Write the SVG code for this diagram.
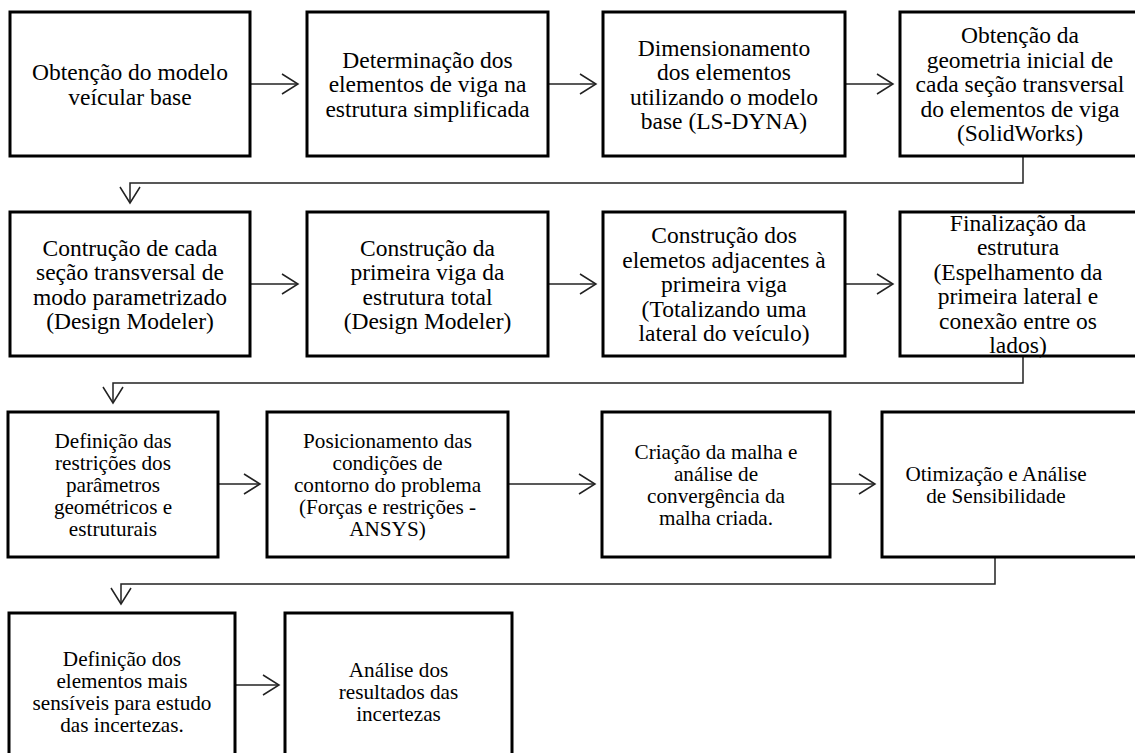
<svg xmlns="http://www.w3.org/2000/svg" width="1135" height="753" viewBox="0 0 1135 753">
<style>
.box{fill:#fff;stroke:#000;stroke-width:3}
.t1{font-family:"Liberation Serif","Times New Roman",serif;font-size:23.5px;fill:#000;text-anchor:middle}
.t2{font-family:"Liberation Serif","Times New Roman",serif;font-size:21.2px;fill:#000;text-anchor:middle}
.c{fill:none;stroke:#222;stroke-width:1.5}
</style>
<defs>
<marker id="ah" markerUnits="userSpaceOnUse" markerWidth="20" markerHeight="24" viewBox="-18 -12 20 24" refX="0" refY="0" orient="auto">
<path d="M-16,-10 L0,0 L-16,10" fill="none" stroke="#222" stroke-width="1.5"/>
</marker>
</defs>
<rect width="1135" height="753" fill="#fff"/>
<g id="connectors">
<line class="c" x1="250" y1="84" x2="298" y2="84" marker-end="url(#ah)"/>
<line class="c" x1="548" y1="84" x2="596" y2="84" marker-end="url(#ah)"/>
<line class="c" x1="845" y1="84" x2="893" y2="84" marker-end="url(#ah)"/>
<polyline class="c" points="1023,156 1023,183 130,183 130,203" marker-end="url(#ah)"/>
<line class="c" x1="250" y1="284" x2="298" y2="284" marker-end="url(#ah)"/>
<line class="c" x1="548" y1="284" x2="596" y2="284" marker-end="url(#ah)"/>
<line class="c" x1="845" y1="284" x2="893" y2="284" marker-end="url(#ah)"/>
<polyline class="c" points="1023,356 1023,383 113,383 113,403" marker-end="url(#ah)"/>
<line class="c" x1="218" y1="484" x2="260" y2="484" marker-end="url(#ah)"/>
<line class="c" x1="508" y1="484" x2="595" y2="484" marker-end="url(#ah)"/>
<line class="c" x1="830" y1="484" x2="875" y2="484" marker-end="url(#ah)"/>
<polyline class="c" points="995,557 995,584 121,584 121,604" marker-end="url(#ah)"/>
<line class="c" x1="235" y1="685" x2="279" y2="685" marker-end="url(#ah)"/>
</g>
<g id="n1"><rect class="box" x="10" y="12" width="240" height="144"/>
<text class="t1"><tspan x="130" y="80">Obtenção do modelo</tspan><tspan x="130" y="104.5">veícular base</tspan></text></g>
<g id="n2"><rect class="box" x="307" y="12" width="241" height="144"/>
<text class="t1"><tspan x="427.5" y="67.5">Determinação dos</tspan><tspan x="427.5" y="92">elementos de viga na</tspan><tspan x="427.5" y="116.5">estrutura simplificada</tspan></text></g>
<g id="n3"><rect class="box" x="603" y="12" width="242" height="144"/>
<text class="t1"><tspan x="724" y="55.5">Dimensionamento</tspan><tspan x="724" y="80">dos elementos</tspan><tspan x="724" y="104.5">utilizando o modelo</tspan><tspan x="724" y="129">base (LS-DYNA)</tspan></text></g>
<g id="n4"><rect class="box" x="900" y="12" width="250" height="144"/>
<text class="t1"><tspan x="1020" y="43">Obtenção da</tspan><tspan x="1020" y="67.5">geometria inicial de</tspan><tspan x="1020" y="92">cada seção transversal</tspan><tspan x="1020" y="116.5">do elementos de viga</tspan><tspan x="1020" y="141">(SolidWorks)</tspan></text></g>
<g id="n5"><rect class="box" x="10" y="212" width="240" height="144"/>
<text class="t1"><tspan x="130" y="255.5">Contrução de cada</tspan><tspan x="130" y="280">seção transversal de</tspan><tspan x="130" y="304.5">modo parametrizado</tspan><tspan x="130" y="329">(Design Modeler)</tspan></text></g>
<g id="n6"><rect class="box" x="307" y="212" width="241" height="144"/>
<text class="t1"><tspan x="427.5" y="255.5">Construção da</tspan><tspan x="427.5" y="280">primeira viga da</tspan><tspan x="427.5" y="304.5">estrutura total</tspan><tspan x="427.5" y="329">(Design Modeler)</tspan></text></g>
<g id="n7"><rect class="box" x="603" y="212" width="242" height="144"/>
<text class="t1"><tspan x="724" y="243">Construção dos</tspan><tspan x="724" y="267.5">elemetos adjacentes à</tspan><tspan x="724" y="292">primeira viga</tspan><tspan x="724" y="316.5">(Totalizando uma</tspan><tspan x="724" y="341">lateral do veículo)</tspan></text></g>
<g id="n8"><rect class="box" x="900" y="212" width="250" height="144"/>
<text class="t1"><tspan x="1018" y="230.5">Finalização da</tspan><tspan x="1018" y="255">estrutura</tspan><tspan x="1018" y="279.5">(Espelhamento da</tspan><tspan x="1018" y="304">primeira lateral e</tspan><tspan x="1018" y="328.5">conexão entre os</tspan><tspan x="1018" y="353">lados)</tspan></text></g>
<g id="n9"><rect class="box" x="8" y="412" width="210" height="145"/>
<text class="t2"><tspan x="113" y="447.5">Definição das</tspan><tspan x="113" y="469.5">restrições dos</tspan><tspan x="113" y="491.5">parâmetros</tspan><tspan x="113" y="513.5">geométricos e</tspan><tspan x="113" y="535.5">estruturais</tspan></text></g>
<g id="n10"><rect class="box" x="267" y="412" width="241" height="145"/>
<text class="t2"><tspan x="387.5" y="447.5">Posicionamento das</tspan><tspan x="387.5" y="469.5">condições de</tspan><tspan x="387.5" y="491.5">contorno do problema</tspan><tspan x="387.5" y="513.5">(Forças e restrições -</tspan><tspan x="387.5" y="535.5">ANSYS)</tspan></text></g>
<g id="n11"><rect class="box" x="602" y="412" width="228" height="145"/>
<text class="t2"><tspan x="716" y="458.5">Criação da malha e</tspan><tspan x="716" y="480.5">análise de</tspan><tspan x="716" y="502.5">convergência da</tspan><tspan x="716" y="524.5">malha criada.</tspan></text></g>
<g id="n12"><rect class="box" x="882" y="412" width="260" height="145"/>
<text class="t2"><tspan x="996" y="480.5">Otimização e Análise</tspan><tspan x="996" y="502.5">de Sensibilidade</tspan></text></g>
<g id="n13"><rect class="box" x="9" y="613" width="226" height="160"/>
<text class="t2"><tspan x="122" y="666">Definição dos</tspan><tspan x="122" y="688">elementos mais</tspan><tspan x="122" y="710">sensíveis para estudo</tspan><tspan x="122" y="732">das incertezas.</tspan></text></g>
<g id="n14"><rect class="box" x="285" y="613" width="227" height="160"/>
<text class="t2"><tspan x="398.5" y="677">Análise dos</tspan><tspan x="398.5" y="699">resultados das</tspan><tspan x="398.5" y="721">incertezas</tspan></text></g>
</svg>
